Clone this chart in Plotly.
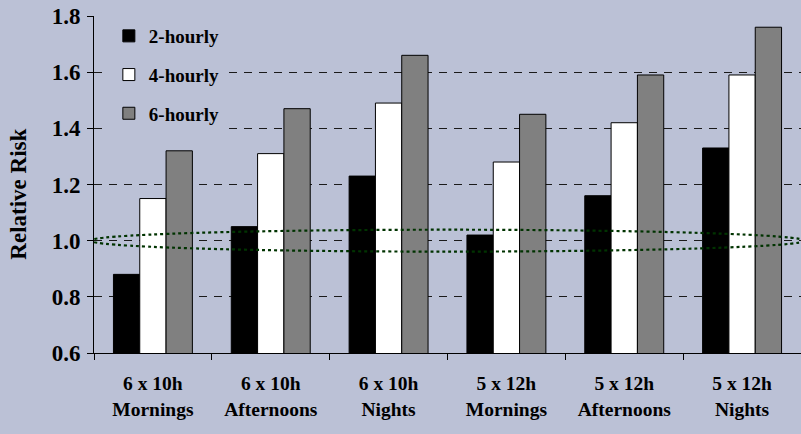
import plotly.graph_objects as go

# Shift patterns and the relative risk for each break frequency
shift_labels = [
    "6 x 10h<br>Mornings",
    "6 x 10h<br>Afternoons",
    "6 x 10h<br>Nights",
    "5 x 12h<br>Mornings",
    "5 x 12h<br>Afternoons",
    "5 x 12h<br>Nights",
]
risk_2_hourly = [0.88, 1.05, 1.23, 1.02, 1.16, 1.33]
risk_4_hourly = [1.15, 1.31, 1.49, 1.28, 1.42, 1.59]
risk_6_hourly = [1.32, 1.47, 1.66, 1.45, 1.59, 1.76]

y_ticks = [0.6, 0.8, 1.0, 1.2, 1.4, 1.6, 1.8]

# Band around the no-effect line (RR = 1.0) that the ellipse highlights
band_low, band_high = 0.961, 1.039

series = [
    ("2-hourly", risk_2_hourly, "#000000"),
    ("4-hourly", risk_4_hourly, "#FFFFFF"),
    ("6-hourly", risk_6_hourly, "#808080"),
]

FONT = "Liberation Serif"
BG = "#BBC1D6"

fig = go.Figure()
for name, values, color in series:
    fig.add_trace(go.Bar(
        x=shift_labels,
        y=values,
        name=name,
        legendgroup=name,
        marker=dict(color=color, line=dict(color="#000000", width=1)),
    ))

fig.add_shape(
    type="circle",
    xref="x", yref="y",
    x0=-0.53, x1=len(shift_labels) - 1 + 0.53,
    y0=band_low, y1=band_high,
    line=dict(color="#003300", width=2.2, dash="dot"),
    layer="above",
)

# Vertical axis title
fig.add_annotation(
    text="Relative Risk",
    xref="paper", yref="paper",
    x=-0.106, y=0.47,
    xanchor="center", yanchor="middle",
    textangle=-90,
    showarrow=False,
    font=dict(family=FONT, size=23, weight="bold"),
)

fig.update_layout(
    width=801, height=434,
    margin=dict(l=94, r=0, t=16, b=81),
    paper_bgcolor=BG,
    plot_bgcolor=BG,
    barmode="group",
    bargap=0.33,
    bargroupgap=0,
    font=dict(family=FONT, color="#000000", size=19, weight="bold"),
    legend=dict(
        x=0.021, y=0.997, xanchor="left", yanchor="top",
        bgcolor=BG,
        font=dict(family=FONT, size=19, weight="bold"),
        tracegroupgap=11,
        itemwidth=30,
        entrywidth=164,
    ),
    showlegend=True,
)

fig.update_xaxes(
    type="category",
    showline=True, linecolor="#000000", linewidth=1,
    ticks="outside", tickson="boundaries", ticklen=6, tickcolor="#000000",
    tickfont=dict(family=FONT, size=19.5, weight="bold"),
    ticklabelstandoff=13,
    showgrid=False,
    range=[-0.5, len(shift_labels) - 0.5],
)

fig.update_yaxes(
    range=[0.6, 1.8],
    tickvals=y_ticks,
    tickformat=".1f",
    showline=True, linecolor="#000000", linewidth=1,
    ticks="outside", ticklen=6, tickcolor="#000000",
    tickfont=dict(family=FONT, size=23, weight="bold"),
    ticklabelstandoff=2,
    showgrid=True, gridcolor="#1A1A1A", gridwidth=1, griddash="8px,7px",
    zeroline=False,
)

fig.write_html("out.html")
